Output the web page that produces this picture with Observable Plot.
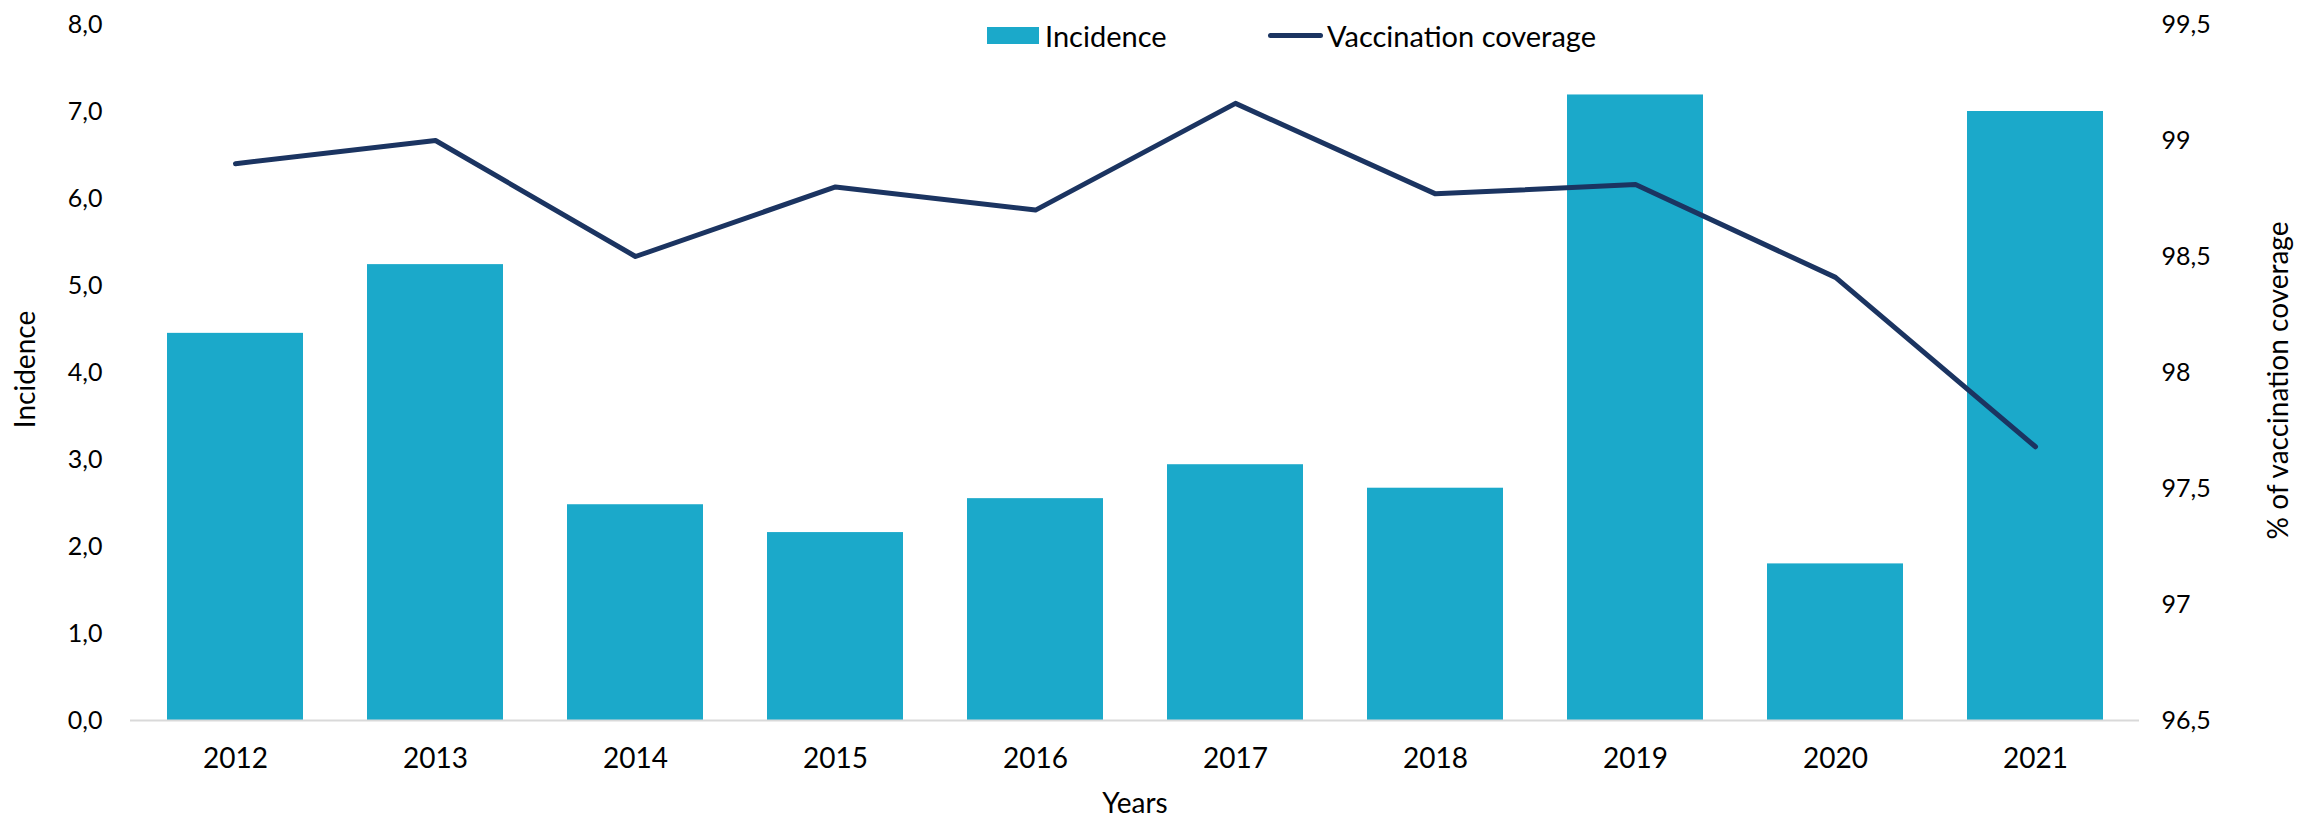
<!DOCTYPE html>
<html>
<head>
<meta charset="utf-8">
<script src="https://cdn.jsdelivr.net/npm/d3@7"></script>
<script src="https://cdn.jsdelivr.net/npm/@observablehq/plot@0.6"></script>
<style>
  html, body { margin: 0; padding: 0; background: #fff; }
  #wrap { position: relative; width: 2318px; height: 820px; font-family: Lato, "Open Sans", sans-serif; }
  #legend { position: absolute; top: 0; left: 0; width: 2318px; height: 70px; pointer-events: none; }
  .lg { position: absolute; font-size: 29px; color: #000; line-height: 1; white-space: nowrap; }
  .sw-bar { position: absolute; left: 987px; top: 27px; width: 52px; height: 17px; background: #1BA9CA; }
  .sw-line { position: absolute; left: 1268px; top: 33px; width: 55px; height: 5px; border-radius: 3px; background: #1B3461; }
</style>
</head>
<body>
<div id="wrap">
  <div id="chart"></div>
  <div id="legend">
    <div class="sw-bar"></div>
    <div class="lg" style="left:1045px; top:21px;">Incidence</div>
    <div class="sw-line"></div>
    <div class="lg" style="left:1327px; top:21px;">Vaccination coverage</div>
  </div>
</div>
<script>
// ---- Data ----
const years = ["2012", "2013", "2014", "2015", "2016", "2017", "2018", "2019", "2020", "2021"];
const incidence = [4.45, 5.24, 2.48, 2.16, 2.55, 2.94, 2.67, 7.19, 1.80, 7.00];
const coverage = [98.90, 99.00, 98.50, 98.80, 98.70, 99.16, 98.77, 98.81, 98.41, 97.68];
const leftTicks = [0, 1, 2, 3, 4, 5, 6, 7, 8];
const rightTicks = [96.5, 97, 97.5, 98, 98.5, 99, 99.5];
const xTitle = "Years";
const yTitle = "Incidence";
const y2Title = "% of vaccination coverage";

// ---- Helpers ----
const cov = d3.scaleLinear([96.5, 99.5], [0, 8]);
const table = years.map((y, i) => ({year: y, inc: incidence[i], cov: cov(coverage[i])}));
const fmtLeft = d => d.toFixed(1).replace(".", ",");
const fmtRight = d => String(+cov.invert(d).toFixed(2)).replace(".", ",");

const chart = Plot.plot({
  width: 2318,
  height: 820,
  marginLeft: 130,
  marginRight: 179,
  marginTop: 24,
  marginBottom: 100,
  style: {fontFamily: "Lato, 'Open Sans', sans-serif", background: "#fff", color: "#000"},
  x: {domain: years, paddingInner: 0.32, paddingOuter: 0.16},
  y: {domain: [0, 8]},
  marks: [
    Plot.barY(table, {x: "year", y: "inc", fill: "#1BA9CA"}),
    Plot.ruleY([0], {stroke: "#d9d9d9", strokeWidth: 2}),
    Plot.line(table, {x: "year", y: "cov", stroke: "#1B3461", strokeWidth: 5, strokeLinecap: "round", strokeLinejoin: "round"}),
    Plot.axisX({tickSize: 0, tickPadding: 28, fontSize: 28, label: null}),
    Plot.axisY(leftTicks, {anchor: "left", tickSize: 0, tickPadding: 28, fontSize: 25, tickFormat: fmtLeft, label: null}),
    Plot.axisY(rightTicks.map(cov), {anchor: "right", tickSize: 0, tickPadding: 22, fontSize: 25, tickFormat: fmtRight, label: null}),
    Plot.text([xTitle], {frameAnchor: "bottom", textAnchor: "middle", lineAnchor: "bottom", dy: 92, fontSize: 28, fill: "#000"}),
    Plot.text([yTitle], {frameAnchor: "left", textAnchor: "middle", rotate: -90, lineAnchor: "top", dx: -115, dy: -3, fontSize: 28, fill: "#000"}),
    Plot.text([y2Title], {frameAnchor: "right", textAnchor: "middle", rotate: -90, lineAnchor: "bottom", dx: 148, dy: 8, fontSize: 28, fill: "#000"})
  ]
});
document.getElementById("chart").appendChild(chart);
</script>
</body>
</html>
